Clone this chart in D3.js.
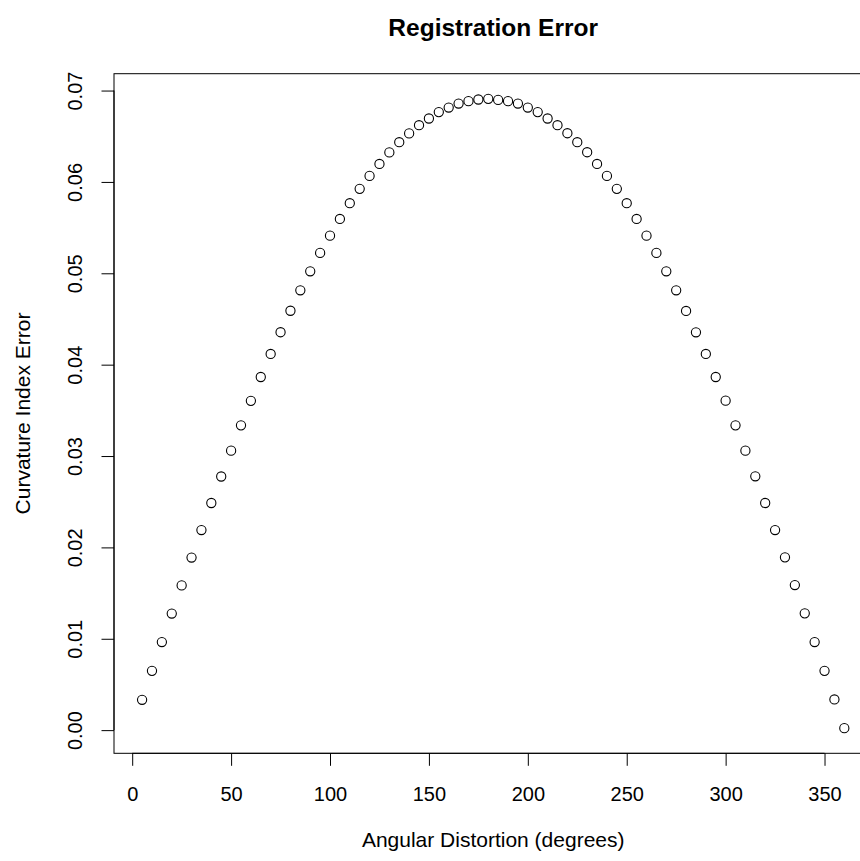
<!DOCTYPE html>
<html>
<head>
<meta charset="utf-8">
<script src="https://cdn.jsdelivr.net/npm/d3@7"></script>
<style>
  html, body { margin: 0; padding: 0; background: #ffffff; }
  svg { display: block; }
  text { font-family: "Liberation Sans", Arial, Helvetica, sans-serif; fill: #000; }
</style>
</head>
<body>
<svg id="chart" width="860" height="861"></svg>
<script>
// Angular distortion (degrees) sampled every 5 degrees
const angles = [
  5, 10, 15, 20, 25, 30, 35, 40, 45, 50, 55, 60,
  65, 70, 75, 80, 85, 90, 95, 100, 105, 110, 115, 120,
  125, 130, 135, 140, 145, 150, 155, 160, 165, 170, 175, 180,
  185, 190, 195, 200, 205, 210, 215, 220, 225, 230, 235, 240,
  245, 250, 255, 260, 265, 270, 275, 280, 285, 290, 295, 300,
  305, 310, 315, 320, 325, 330, 335, 340, 345, 350, 355, 360
];

// Curvature index error at each distortion angle
const errors = [
  0.00332, 0.00649, 0.00964, 0.01276, 0.01584, 0.01889, 0.02190, 0.02486, 0.02776, 0.03059, 0.03336, 0.03604,
  0.03865, 0.04117, 0.04355, 0.04590, 0.04814, 0.05022, 0.05223, 0.05412, 0.05595, 0.05767, 0.05924, 0.06066,
  0.06197, 0.06323, 0.06435, 0.06531, 0.06621, 0.06694, 0.06764, 0.06814, 0.06858, 0.06884, 0.06902, 0.06909,
  0.06898, 0.06884, 0.06858, 0.06814, 0.06764, 0.06694, 0.06621, 0.06533, 0.06435, 0.06325, 0.06197, 0.06066,
  0.05924, 0.05767, 0.05595, 0.05412, 0.05223, 0.05022, 0.04814, 0.04588, 0.04354, 0.04117, 0.03865, 0.03606,
  0.03336, 0.03059, 0.02778, 0.02486, 0.02190, 0.01891, 0.01588, 0.01278, 0.00964, 0.00649, 0.00336, 0.00022
];

const xTicks = [0, 50, 100, 150, 200, 250, 300, 350];
const yTicks = [0.00, 0.01, 0.02, 0.03, 0.04, 0.05, 0.06, 0.07];

const titleText = "Registration Error";
const xLabel = "Angular Distortion (degrees)";
const yLabel = "Curvature Index Error";

// Plot region (the frame runs past the right edge of the canvas)
const plot = { left: 114, right: 872.4, top: 73.7, bottom: 753.3 };
const axisFont = 20;
const labelFont = 21;
const titleFont = 24.5;
const tickLen = 12.5;

// Pad the data range by 4% on each side
function padded(ext) {
  const d = (ext[1] - ext[0]) * 0.04;
  return [ext[0] - d, ext[1] + d];
}

const x = d3.scaleLinear().domain(padded(d3.extent(angles))).range([plot.left, plot.right]);
const y = d3.scaleLinear().domain(padded(d3.extent(errors))).range([plot.bottom, plot.top]);

const svg = d3.select("#chart");

// Frame around the plotting region
svg.append("rect")
  .attr("x", plot.left).attr("y", plot.top)
  .attr("width", plot.right - plot.left).attr("height", plot.bottom - plot.top)
  .attr("fill", "none").attr("stroke", "#000").attr("stroke-width", 1);

// Bottom axis
const gx = svg.append("g")
  .attr("transform", `translate(0,${plot.bottom})`)
  .call(d3.axisBottom(x).tickValues(xTicks).tickSize(tickLen).tickSizeOuter(0).tickFormat(d3.format("d")));
gx.select(".domain")
  .attr("d", `M${x(xTicks[0])},0H${x(xTicks[xTicks.length - 1])}`);
gx.selectAll(".tick text")
  .attr("y", 48).attr("dy", null)
  .style("font-size", axisFont + "px")
  .style("font-family", '"Liberation Sans", Arial, Helvetica, sans-serif');

// Left axis with labels running parallel to the axis
const gy = svg.append("g")
  .attr("transform", `translate(${plot.left},0)`)
  .call(d3.axisLeft(y).tickValues(yTicks).tickSize(tickLen).tickSizeOuter(0).tickFormat(d3.format(".2f")));
gy.select(".domain")
  .attr("d", `M0,${y(yTicks[0])}V${y(yTicks[yTicks.length - 1])}`);
gy.selectAll(".tick text")
  .attr("x", null).attr("dy", null)
  .attr("text-anchor", "middle")
  .attr("transform", "translate(-32.5,0) rotate(-90)")
  .style("font-size", axisFont + "px")
  .style("font-family", '"Liberation Sans", Arial, Helvetica, sans-serif');

svg.selectAll(".domain, .tick line").attr("stroke", "#000").attr("stroke-width", 1);

// Data points as open circles
svg.append("g")
  .selectAll("circle")
  .data(angles)
  .join("circle")
  .attr("cx", (d) => x(d))
  .attr("cy", (d, i) => y(errors[i]))
  .attr("r", 4.6)
  .attr("fill", "none")
  .attr("stroke", "#000")
  .attr("stroke-width", 1.1);

// Titles
const midX = (plot.left + plot.right) / 2;
svg.append("text")
  .attr("x", midX).attr("y", 36)
  .attr("text-anchor", "middle")
  .style("font-size", titleFont + "px").style("font-weight", "bold")
  .text(titleText);

svg.append("text")
  .attr("x", midX).attr("y", 847)
  .attr("text-anchor", "middle")
  .style("font-size", labelFont + "px")
  .text(xLabel);

svg.append("text")
  .attr("transform", `translate(30,${(plot.top + plot.bottom) / 2}) rotate(-90)`)
  .attr("text-anchor", "middle")
  .style("font-size", labelFont + "px")
  .text(yLabel);
</script>
</body>
</html>
